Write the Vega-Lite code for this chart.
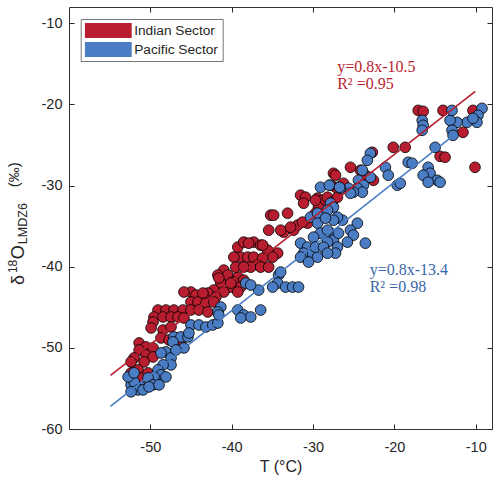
{
"$schema":"https://vega.github.io/schema/vega-lite/v6.json",
"width":423,"height":422,
"autosize":{"type":"none"},
"padding":{"left":69,"top":7,"right":8,"bottom":58},
"config":{"view":{"stroke":"#333333","strokeWidth":1},"font":"Liberation Sans",
"axis":{"grid":false,"domain":false,"tickColor":"#262626","tickWidth":1,"labelColor":"#262626","labelFont":"Liberation Sans","labelFontSize":14.5,"titleColor":"#262626","titleFont":"Liberation Sans","titleFontWeight":"normal"}},
"datasets":{
"pts":[
{"Sector":"Indian Sector","T":-17.07,"D":-20.74},{"Sector":"Indian Sector","T":-16.46,"D":-20.86},{"Sector":"Indian Sector","T":-14.02,"D":-20.74},{"Sector":"Indian Sector","T":-10.34,"D":-20.74},{"Sector":"Indian Sector","T":-11.57,"D":-23.44},{"Sector":"Indian Sector","T":-20.14,"D":-25.29},{"Sector":"Indian Sector","T":-18.67,"D":-25.29},{"Sector":"Indian Sector","T":-14.38,"D":-26.40},{"Sector":"Indian Sector","T":-13.77,"D":-26.51},{"Sector":"Indian Sector","T":-10.09,"D":-27.75},
{"Sector":"Indian Sector","T":-27.49,"D":-28.49},{"Sector":"Indian Sector","T":-26.26,"D":-29.72},{"Sector":"Indian Sector","T":-27.24,"D":-30.21},{"Sector":"Indian Sector","T":-22.71,"D":-25.90},{"Sector":"Indian Sector","T":-25.40,"D":-27.75},{"Sector":"Indian Sector","T":-24.18,"D":-28.12},{"Sector":"Indian Sector","T":-23.57,"D":-28.73},{"Sector":"Indian Sector","T":-22.58,"D":-29.35},{"Sector":"Indian Sector","T":-27.85,"D":-29.96},{"Sector":"Indian Sector","T":-31.53,"D":-31.19},
{"Sector":"Indian Sector","T":-30.92,"D":-31.44},{"Sector":"Indian Sector","T":-29.45,"D":-31.56},{"Sector":"Indian Sector","T":-28.84,"D":-31.81},{"Sector":"Indian Sector","T":-29.33,"D":-32.67},{"Sector":"Indian Sector","T":-30.06,"D":-33.90},{"Sector":"Indian Sector","T":-33.13,"D":-33.41},{"Sector":"Indian Sector","T":-35.21,"D":-33.65},{"Sector":"Indian Sector","T":-34.84,"D":-33.65},{"Sector":"Indian Sector","T":-35.45,"D":-35.50},{"Sector":"Indian Sector","T":-33.62,"D":-35.74},
{"Sector":"Indian Sector","T":-32.39,"D":-35.50},{"Sector":"Indian Sector","T":-31.90,"D":-34.88},{"Sector":"Indian Sector","T":-30.67,"D":-34.64},{"Sector":"Indian Sector","T":-37.29,"D":-36.97},{"Sector":"Indian Sector","T":-36.44,"D":-37.34},{"Sector":"Indian Sector","T":-35.21,"D":-38.33},{"Sector":"Indian Sector","T":-34.35,"D":-38.33},{"Sector":"Indian Sector","T":-31.16,"D":-32.18},{"Sector":"Indian Sector","T":-29.69,"D":-31.81},{"Sector":"Indian Sector","T":-28.22,"D":-31.44},
{"Sector":"Indian Sector","T":-27.61,"D":-32.05},{"Sector":"Indian Sector","T":-27.00,"D":-31.44},{"Sector":"Indian Sector","T":-27.24,"D":-28.73},{"Sector":"Indian Sector","T":-33.98,"D":-35.50},{"Sector":"Indian Sector","T":-32.76,"D":-35.13},{"Sector":"Indian Sector","T":-31.29,"D":-34.51},{"Sector":"Indian Sector","T":-29.69,"D":-33.41},{"Sector":"Indian Sector","T":-39.25,"D":-37.59},{"Sector":"Indian Sector","T":-38.52,"D":-36.97},{"Sector":"Indian Sector","T":-37.91,"D":-37.10},
{"Sector":"Indian Sector","T":-35.58,"D":-37.96},{"Sector":"Indian Sector","T":-34.96,"D":-38.82},{"Sector":"Indian Sector","T":-38.89,"D":-38.82},{"Sector":"Indian Sector","T":-38.03,"D":-38.82},{"Sector":"Indian Sector","T":-37.29,"D":-38.82},{"Sector":"Indian Sector","T":-36.19,"D":-38.94},{"Sector":"Indian Sector","T":-39.74,"D":-38.82},{"Sector":"Indian Sector","T":-36.80,"D":-39.80},{"Sector":"Indian Sector","T":-37.66,"D":-40.05},{"Sector":"Indian Sector","T":-40.97,"D":-40.42},
{"Sector":"Indian Sector","T":-41.70,"D":-41.03},{"Sector":"Indian Sector","T":-40.48,"D":-41.03},{"Sector":"Indian Sector","T":-39.25,"D":-41.28},{"Sector":"Indian Sector","T":-39.74,"D":-41.89},{"Sector":"Indian Sector","T":-38.52,"D":-41.65},{"Sector":"Indian Sector","T":-41.34,"D":-42.02},{"Sector":"Indian Sector","T":-40.11,"D":-42.51},{"Sector":"Indian Sector","T":-38.89,"D":-42.51},{"Sector":"Indian Sector","T":-42.20,"D":-42.88},{"Sector":"Indian Sector","T":-40.97,"D":-43.12},
{"Sector":"Indian Sector","T":-39.25,"D":-43.12},{"Sector":"Indian Sector","T":-42.93,"D":-43.25},{"Sector":"Indian Sector","T":-43.42,"D":-43.74},{"Sector":"Indian Sector","T":-41.95,"D":-43.74},{"Sector":"Indian Sector","T":-36.19,"D":-37.34},{"Sector":"Indian Sector","T":-39.50,"D":-40.05},{"Sector":"Indian Sector","T":-38.52,"D":-40.05},{"Sector":"Indian Sector","T":-36.44,"D":-40.05},{"Sector":"Indian Sector","T":-35.45,"D":-40.05},{"Sector":"Indian Sector","T":-40.11,"D":-42.02},
{"Sector":"Indian Sector","T":-45.01,"D":-43.12},{"Sector":"Indian Sector","T":-44.40,"D":-43.49},{"Sector":"Indian Sector","T":-45.01,"D":-44.35},{"Sector":"Indian Sector","T":-44.15,"D":-44.35},{"Sector":"Indian Sector","T":-43.17,"D":-44.48},{"Sector":"Indian Sector","T":-42.20,"D":-44.35},{"Sector":"Indian Sector","T":-49.06,"D":-45.34},{"Sector":"Indian Sector","T":-48.08,"D":-45.34},{"Sector":"Indian Sector","T":-47.10,"D":-45.34},{"Sector":"Indian Sector","T":-45.99,"D":-45.34},
{"Sector":"Indian Sector","T":-45.01,"D":-45.34},{"Sector":"Indian Sector","T":-44.03,"D":-45.34},{"Sector":"Indian Sector","T":-42.93,"D":-45.58},{"Sector":"Indian Sector","T":-49.55,"D":-46.20},{"Sector":"Indian Sector","T":-48.44,"D":-46.20},{"Sector":"Indian Sector","T":-47.46,"D":-46.20},{"Sector":"Indian Sector","T":-46.61,"D":-46.20},{"Sector":"Indian Sector","T":-45.87,"D":-46.32},{"Sector":"Indian Sector","T":-49.67,"D":-46.81},{"Sector":"Indian Sector","T":-49.91,"D":-47.55},
{"Sector":"Indian Sector","T":-48.44,"D":-47.80},{"Sector":"Indian Sector","T":-47.46,"D":-47.43},{"Sector":"Indian Sector","T":-48.69,"D":-48.78},{"Sector":"Indian Sector","T":-47.71,"D":-49.03},{"Sector":"Indian Sector","T":-46.85,"D":-48.78},{"Sector":"Indian Sector","T":-46.24,"D":-49.03},{"Sector":"Indian Sector","T":-51.38,"D":-49.40},{"Sector":"Indian Sector","T":-50.53,"D":-49.89},{"Sector":"Indian Sector","T":-49.67,"D":-50.01},{"Sector":"Indian Sector","T":-51.38,"D":-50.26},
{"Sector":"Indian Sector","T":-50.53,"D":-50.87},{"Sector":"Indian Sector","T":-49.67,"D":-51.12},{"Sector":"Indian Sector","T":-52.00,"D":-51.24},{"Sector":"Indian Sector","T":-52.37,"D":-51.73},{"Sector":"Indian Sector","T":-50.77,"D":-51.73},{"Sector":"Indian Sector","T":-51.51,"D":-52.72},{"Sector":"Indian Sector","T":-52.37,"D":-53.09},{"Sector":"Indian Sector","T":-51.14,"D":-53.70},{"Sector":"Indian Sector","T":-50.28,"D":-53.09},{"Sector":"Indian Sector","T":-41.58,"D":-41.40},
{"Sector":"Indian Sector","T":-45.87,"D":-43.12},{"Sector":"Indian Sector","T":-43.54,"D":-43.25},
{"Sector":"Pacific Sector","T":-9.23,"D":-20.49},{"Sector":"Pacific Sector","T":-9.72,"D":-21.35},{"Sector":"Pacific Sector","T":-9.85,"D":-22.21},{"Sector":"Pacific Sector","T":-11.07,"D":-22.21},{"Sector":"Pacific Sector","T":-12.30,"D":-22.21},{"Sector":"Pacific Sector","T":-13.16,"D":-21.97},{"Sector":"Pacific Sector","T":-12.92,"D":-23.19},{"Sector":"Pacific Sector","T":-12.79,"D":-23.81},{"Sector":"Pacific Sector","T":-10.34,"D":-21.72},{"Sector":"Pacific Sector","T":-12.92,"D":-20.74},
{"Sector":"Pacific Sector","T":-16.58,"D":-21.97},{"Sector":"Pacific Sector","T":-16.46,"D":-22.58},{"Sector":"Pacific Sector","T":-16.58,"D":-23.19},{"Sector":"Pacific Sector","T":-14.99,"D":-25.29},{"Sector":"Pacific Sector","T":-22.95,"D":-26.03},{"Sector":"Pacific Sector","T":-23.32,"D":-26.89},{"Sector":"Pacific Sector","T":-23.94,"D":-28.12},{"Sector":"Pacific Sector","T":-22.95,"D":-28.98},{"Sector":"Pacific Sector","T":-24.42,"D":-29.35},{"Sector":"Pacific Sector","T":-23.81,"D":-29.96},
{"Sector":"Pacific Sector","T":-24.55,"D":-30.33},{"Sector":"Pacific Sector","T":-23.94,"D":-30.82},{"Sector":"Pacific Sector","T":-25.04,"D":-30.82},{"Sector":"Pacific Sector","T":-25.65,"D":-30.33},{"Sector":"Pacific Sector","T":-26.63,"D":-30.33},{"Sector":"Pacific Sector","T":-21.11,"D":-27.75},{"Sector":"Pacific Sector","T":-20.75,"D":-28.73},{"Sector":"Pacific Sector","T":-19.65,"D":-29.96},{"Sector":"Pacific Sector","T":-19.28,"D":-29.72},{"Sector":"Pacific Sector","T":-18.30,"D":-27.13},
{"Sector":"Pacific Sector","T":-17.81,"D":-27.26},{"Sector":"Pacific Sector","T":-15.85,"D":-27.75},{"Sector":"Pacific Sector","T":-15.61,"D":-28.49},{"Sector":"Pacific Sector","T":-14.75,"D":-29.35},{"Sector":"Pacific Sector","T":-14.38,"D":-29.59},{"Sector":"Pacific Sector","T":-16.46,"D":-28.73},{"Sector":"Pacific Sector","T":-15.85,"D":-29.59},{"Sector":"Pacific Sector","T":-29.08,"D":-30.21},{"Sector":"Pacific Sector","T":-25.40,"D":-30.95},{"Sector":"Pacific Sector","T":-27.85,"D":-32.18},
{"Sector":"Pacific Sector","T":-27.49,"D":-32.67},{"Sector":"Pacific Sector","T":-30.31,"D":-33.90},{"Sector":"Pacific Sector","T":-29.45,"D":-33.41},{"Sector":"Pacific Sector","T":-28.22,"D":-33.04},{"Sector":"Pacific Sector","T":-26.38,"D":-34.27},{"Sector":"Pacific Sector","T":-27.00,"D":-33.90},{"Sector":"Pacific Sector","T":-24.55,"D":-34.64},{"Sector":"Pacific Sector","T":-25.40,"D":-35.50},{"Sector":"Pacific Sector","T":-25.04,"D":-36.11},{"Sector":"Pacific Sector","T":-25.77,"D":-36.97},
{"Sector":"Pacific Sector","T":-23.57,"D":-37.10},{"Sector":"Pacific Sector","T":-29.45,"D":-34.64},{"Sector":"Pacific Sector","T":-29.08,"D":-35.87},{"Sector":"Pacific Sector","T":-27.85,"D":-35.87},{"Sector":"Pacific Sector","T":-27.49,"D":-36.73},{"Sector":"Pacific Sector","T":-27.00,"D":-37.59},{"Sector":"Pacific Sector","T":-31.53,"D":-37.10},{"Sector":"Pacific Sector","T":-30.67,"D":-37.59},{"Sector":"Pacific Sector","T":-31.16,"D":-38.33},{"Sector":"Pacific Sector","T":-30.06,"D":-38.33},
{"Sector":"Pacific Sector","T":-29.45,"D":-38.82},{"Sector":"Pacific Sector","T":-28.00,"D":-29.96},{"Sector":"Pacific Sector","T":-26.75,"D":-30.21},{"Sector":"Pacific Sector","T":-27.49,"D":-34.27},{"Sector":"Pacific Sector","T":-28.47,"D":-34.02},{"Sector":"Pacific Sector","T":-28.22,"D":-35.50},{"Sector":"Pacific Sector","T":-26.87,"D":-35.87},{"Sector":"Pacific Sector","T":-29.94,"D":-36.36},{"Sector":"Pacific Sector","T":-28.22,"D":-36.97},{"Sector":"Pacific Sector","T":-29.69,"D":-37.59},
{"Sector":"Pacific Sector","T":-28.71,"D":-37.59},{"Sector":"Pacific Sector","T":-27.24,"D":-38.33},{"Sector":"Pacific Sector","T":-31.53,"D":-38.82},{"Sector":"Pacific Sector","T":-30.55,"D":-39.43},{"Sector":"Pacific Sector","T":-28.22,"D":-38.33},{"Sector":"Pacific Sector","T":-38.27,"D":-42.02},{"Sector":"Pacific Sector","T":-36.68,"D":-42.88},{"Sector":"Pacific Sector","T":-34.23,"D":-41.03},{"Sector":"Pacific Sector","T":-34.35,"D":-42.02},{"Sector":"Pacific Sector","T":-34.96,"D":-42.51},
{"Sector":"Pacific Sector","T":-33.38,"D":-42.51},{"Sector":"Pacific Sector","T":-32.51,"D":-42.51},{"Sector":"Pacific Sector","T":-31.78,"D":-42.51},{"Sector":"Pacific Sector","T":-33.98,"D":-40.66},{"Sector":"Pacific Sector","T":-37.66,"D":-42.26},{"Sector":"Pacific Sector","T":-41.34,"D":-44.97},{"Sector":"Pacific Sector","T":-41.70,"D":-45.58},{"Sector":"Pacific Sector","T":-39.25,"D":-45.34},{"Sector":"Pacific Sector","T":-38.52,"D":-45.95},{"Sector":"Pacific Sector","T":-37.66,"D":-46.20},
{"Sector":"Pacific Sector","T":-36.44,"D":-45.34},{"Sector":"Pacific Sector","T":-45.01,"D":-47.18},{"Sector":"Pacific Sector","T":-44.03,"D":-47.18},{"Sector":"Pacific Sector","T":-43.17,"D":-47.43},{"Sector":"Pacific Sector","T":-42.32,"D":-47.18},{"Sector":"Pacific Sector","T":-41.70,"D":-46.94},{"Sector":"Pacific Sector","T":-47.10,"D":-48.66},{"Sector":"Pacific Sector","T":-46.24,"D":-48.66},{"Sector":"Pacific Sector","T":-45.38,"D":-48.66},{"Sector":"Pacific Sector","T":-47.22,"D":-49.27},
{"Sector":"Pacific Sector","T":-45.87,"D":-50.01},{"Sector":"Pacific Sector","T":-48.08,"D":-50.50},{"Sector":"Pacific Sector","T":-48.69,"D":-50.63},{"Sector":"Pacific Sector","T":-47.46,"D":-51.24},{"Sector":"Pacific Sector","T":-47.46,"D":-52.10},{"Sector":"Pacific Sector","T":-48.44,"D":-52.10},{"Sector":"Pacific Sector","T":-49.06,"D":-52.72},{"Sector":"Pacific Sector","T":-48.69,"D":-53.33},{"Sector":"Pacific Sector","T":-48.08,"D":-53.58},{"Sector":"Pacific Sector","T":-49.55,"D":-53.58},
{"Sector":"Pacific Sector","T":-50.28,"D":-53.70},{"Sector":"Pacific Sector","T":-49.67,"D":-54.56},{"Sector":"Pacific Sector","T":-51.14,"D":-54.81},{"Sector":"Pacific Sector","T":-51.75,"D":-54.81},{"Sector":"Pacific Sector","T":-52.37,"D":-54.56},{"Sector":"Pacific Sector","T":-52.00,"D":-54.19},{"Sector":"Pacific Sector","T":-51.51,"D":-55.18},{"Sector":"Pacific Sector","T":-52.37,"D":-55.42},{"Sector":"Pacific Sector","T":-52.73,"D":-53.58},{"Sector":"Pacific Sector","T":-52.00,"D":-53.09},
{"Sector":"Pacific Sector","T":-50.89,"D":-55.18},{"Sector":"Pacific Sector","T":-50.16,"D":-54.81},{"Sector":"Pacific Sector","T":-48.93,"D":-54.56},{"Sector":"Pacific Sector","T":-46.85,"D":-50.26},{"Sector":"Pacific Sector","T":-45.26,"D":-48.17},{"Sector":"Pacific Sector","T":-41.58,"D":-45.95},{"Sector":"Pacific Sector","T":-38.89,"D":-46.32}
],
"fit":[
{"Sector":"Indian Sector","T":-54.9,"D":-53.4},{"Sector":"Indian Sector","T":-10.05,"D":-18.4},
{"Sector":"Pacific Sector","T":-54.9,"D":-57.2},{"Sector":"Pacific Sector","T":-12.57,"D":-23.7}
]},
"layer":[
{"data":{"name":"pts"},
"mark":{"type":"point","shape":"circle","filled":true,"stroke":"#000000","strokeWidth":0.8,"size":115,"opacity":1},
"encoding":{
"x":{"field":"T","type":"quantitative","scale":{"domain":[-60,-8],"nice":false,"zero":false},"axis":{"orient":"bottom","values":[-50,-40,-30,-20,-10],"labelExpr":"datum.value + ''","title":"T (°C)","titleFontSize":16,"tickSize":-5,"labelPadding":16,"titlePadding":5}},
"y":{"field":"D","type":"quantitative","scale":{"domain":[-60,-8],"nice":false,"zero":false},"axis":{"orient":"left","values":[-60,-50,-40,-30,-20,-10],"labelExpr":"datum.value + ''","title":null,"tickSize":-5,"labelPadding":12}},
"color":{"field":"Sector","type":"nominal","scale":{"domain":["Indian Sector","Pacific Sector"],"range":["#B91E30","#4A7DC4"]},
"legend":{"orient":"none","legendX":11.7,"legendY":12,"title":null,"symbolType":"M-1,-0.32H1V0.32H-1Z","symbolSize":2209,"symbolStrokeWidth":0,"symbolOpacity":1,"labelFontSize":13.7,"labelColor":"#262626","labelFont":"Liberation Sans","labelOffset":2.5,"strokeColor":"#777777","fillColor":"#ffffff","padding":4,"clipHeight":15,"rowPadding":4}}}},
{"data":{"name":"fit"},
"mark":{"type":"line","strokeWidth":1.6},
"encoding":{
"x":{"field":"T","type":"quantitative","scale":{"domain":[-60,-8],"nice":false,"zero":false},"axis":{"orient":"top","labels":false,"title":null,"values":[-50,-40,-30,-20,-10],"tickSize":-5}},
"y":{"field":"D","type":"quantitative","scale":{"domain":[-60,-8],"nice":false,"zero":false},"axis":{"orient":"right","labels":false,"title":null,"values":[-60,-50,-40,-30,-20,-10],"tickSize":-5}},
"color":{"field":"Sector","type":"nominal","legend":null},
"detail":{"field":"Sector"}}},
{"data":{"values":[{}]},"mark":{"type":"text","align":"left","baseline":"alphabetic","font":"Liberation Serif","fontSize":16,"color":"#B91E30"},
"encoding":{"x":{"datum":-27.03,"type":"quantitative","axis":null},"y":{"datum":-16.06,"type":"quantitative","axis":null},"text":{"value":"y=0.8x-10.5"}}},
{"data":{"values":[{}]},"mark":{"type":"text","align":"left","baseline":"alphabetic","font":"Liberation Serif","fontSize":16,"color":"#B91E30"},
"encoding":{"x":{"datum":-27.03,"type":"quantitative","axis":null},"y":{"datum":-18.09,"type":"quantitative","axis":null},"text":{"value":"R² =0.95"}}},
{"data":{"values":[{}]},"mark":{"type":"text","align":"left","baseline":"alphabetic","font":"Liberation Serif","fontSize":16,"color":"#3A67AA"},
"encoding":{"x":{"datum":-23.04,"type":"quantitative","axis":null},"y":{"datum":-41.03,"type":"quantitative","axis":null},"text":{"value":"y=0.8x-13.4"}}},
{"data":{"values":[{}]},"mark":{"type":"text","align":"left","baseline":"alphabetic","font":"Liberation Serif","fontSize":16,"color":"#3A67AA"},
"encoding":{"x":{"datum":-23.04,"type":"quantitative","axis":null},"y":{"datum":-43.15,"type":"quantitative","axis":null},"text":{"value":"R² =0.98"}}},
{"data":{"values":[{}]},"mark":{"type":"text","align":"left","baseline":"alphabetic","font":"Liberation Sans","fontSize":18,"angle":270,"color":"#262626"},
"encoding":{"x":{"datum":-65.48,"type":"quantitative","axis":null},"y":{"datum":-42.26,"type":"quantitative","axis":null},"text":{"value":"δ"}}},
{"data":{"values":[{}]},"mark":{"type":"text","align":"left","baseline":"alphabetic","font":"Liberation Sans","fontSize":12,"angle":270,"color":"#262626"},
"encoding":{"x":{"datum":-66.34,"type":"quantitative","axis":null},"y":{"datum":-40.79,"type":"quantitative","axis":null},"text":{"value":"18"}}},
{"data":{"values":[{}]},"mark":{"type":"text","align":"left","baseline":"alphabetic","font":"Liberation Sans","fontSize":18,"angle":270,"color":"#262626"},
"encoding":{"x":{"datum":-65.48,"type":"quantitative","axis":null},"y":{"datum":-39.07,"type":"quantitative","axis":null},"text":{"value":"O"}}},
{"data":{"values":[{}]},"mark":{"type":"text","align":"left","baseline":"alphabetic","font":"Liberation Sans","fontSize":12.5,"angle":270,"color":"#262626"},
"encoding":{"x":{"datum":-65.11,"type":"quantitative","axis":null},"y":{"datum":-37.22,"type":"quantitative","axis":null},"text":{"value":"LMDZ6"}}},
{"data":{"values":[{}]},"mark":{"type":"text","align":"left","baseline":"alphabetic","font":"Liberation Sans","fontSize":15,"angle":270,"color":"#262626"},
"encoding":{"x":{"datum":-66.1,"type":"quantitative","axis":null},"y":{"datum":-30.2,"type":"quantitative","axis":null},"text":{"value":"(‰)"}}}
],
"resolve":{"axis":{"x":"independent","y":"independent"}}
}
